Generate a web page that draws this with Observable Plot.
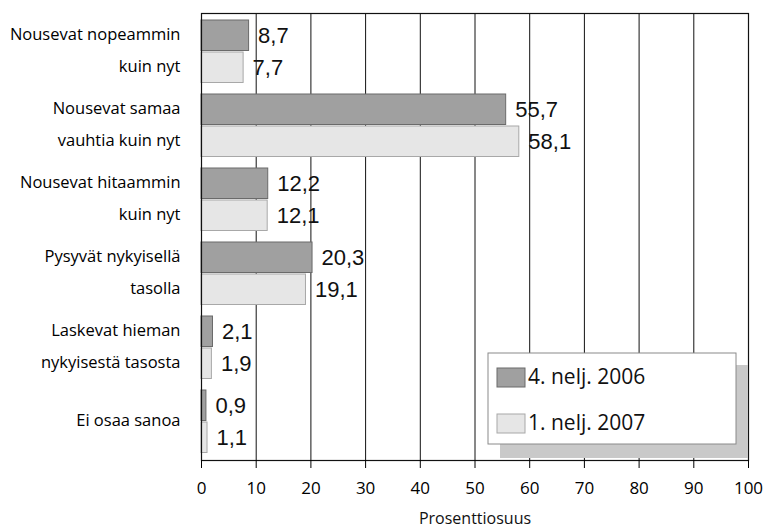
<!DOCTYPE html>
<html>
<head>
<meta charset="utf-8">
<script src="https://cdn.jsdelivr.net/npm/d3@7"></script>
<script src="https://cdn.jsdelivr.net/npm/@observablehq/plot@0.6"></script>
<style>
  html, body { margin: 0; padding: 0; background: #fff; }
  #chart { width: 767px; height: 529px; }
</style>
</head>
<body>
<div id="chart"></div>
<script>
// ---- data ----
const categories = [
  "Nousevat nopeammin\nkuin nyt",
  "Nousevat samaa\nvauhtia kuin nyt",
  "Nousevat hitaammin\nkuin nyt",
  "Pysyvät nykyisellä\ntasolla",
  "Laskevat hieman\nnykyisestä tasosta",
  "Ei osaa sanoa"
];
const seriesNames = ["4. nelj. 2006", "1. nelj. 2007"];
const values2006 = [8.7, 55.7, 12.2, 20.3, 2.1, 0.9];
const values2007 = [7.7, 58.1, 12.1, 19.1, 1.9, 1.1];
const xTicks = [0, 10, 20, 30, 40, 50, 60, 70, 80, 90, 100];
const xLabel = "Prosenttiosuus";

const rows2006 = categories.map((c, i) => ({cat: c, series: seriesNames[0], value: values2006[i]}));
const rows2007 = categories.map((c, i) => ({cat: c, series: seriesNames[1], value: values2007[i]}));

const fmt = v => v.toFixed(1).replace(".", ",");
const FONT = "'Open Sans', sans-serif";
const VALFONT = "'Liberation Sans', 'Open Sans', sans-serif";
const darkFill = "#a0a0a0", darkStroke = "#6a6a6a";
const lightFill = "#e6e6e6", lightStroke = "#a8a8a8";

const plot = Plot.plot({
  width: 767,
  height: 529,
  marginLeft: 201,
  marginRight: 19,
  marginTop: 13,
  marginBottom: 69,
  style: {fontFamily: FONT, background: "#fff", color: "#000"},
  x: {domain: [0, 100]},
  y: {domain: categories, padding: 0},
  marks: [
    Plot.gridX(xTicks, {stroke: "#111", strokeOpacity: 1, strokeWidth: 1}),
    Plot.barX(rows2006, {x: "value", y: "cat", fill: darkFill, stroke: darkStroke, strokeWidth: 1, insetTop: 5, insetBottom: 38.5}),
    Plot.barX(rows2007, {x: "value", y: "cat", fill: lightFill, stroke: lightStroke, strokeWidth: 1, insetTop: 37, insetBottom: 6.5}),
    Plot.text(rows2006, {x: "value", y: "cat", text: d => fmt(d.value), dx: 9, dy: -16.5, textAnchor: "start", fontSize: 22, fontFamily: VALFONT, fill: "#111"}),
    Plot.text(rows2007, {x: "value", y: "cat", text: d => fmt(d.value), dx: 9, dy: 15.5, textAnchor: "start", fontSize: 22, fontFamily: VALFONT, fill: "#111"}),
    Plot.frame({stroke: "#111", strokeWidth: 1.2}),
    Plot.axisY({tickSize: 0, tickPadding: 21, fontSize: 16.5, lineHeight: 1.95, dy: -6.5, label: null}),
    Plot.axisX({ticks: xTicks, tickSize: 8, tickPadding: 13, fontSize: 17, label: null}),
    Plot.text([xLabel], {frameAnchor: "bottom", text: d => d, dy: 63, fontSize: 16, fill: "#111"})
  ]
});

document.getElementById("chart").appendChild(plot);

// ---- legend (inside the plot area, bottom right, with drop shadow) ----
const xs = plot.scale("x");
const ys = plot.scale("y");
const svg = d3.select(plot.tagName.toLowerCase() === "svg" ? plot : plot.querySelector("svg"));
const plotRight = xs.apply(100);
const plotBottom = ys.apply(categories[categories.length - 1]) + ys.bandwidth;
const boxW = 248, boxH = 91, shadow = 12;
const bx = plotRight - shadow - boxW;
const by = plotBottom - 15 - boxH;
const g = svg.append("g").attr("font-family", FONT).attr("text-anchor", "start");
g.append("rect").attr("x", bx + shadow).attr("y", by + shadow).attr("width", boxW).attr("height", plotBottom - by - shadow - 1)
  .attr("fill", "#c9c9c9");
g.append("rect").attr("x", bx).attr("y", by).attr("width", boxW).attr("height", boxH)
  .attr("fill", "#fff").attr("stroke", "#8a8a8a").attr("stroke-width", 1);
const items = [
  {name: seriesNames[0], fill: darkFill, stroke: darkStroke},
  {name: seriesNames[1], fill: lightFill, stroke: lightStroke}
];
items.forEach((it, i) => {
  const cy = by + 24 + i * 46;
  g.append("rect").attr("x", bx + 9).attr("y", cy - 9).attr("width", 28).attr("height", 19)
    .attr("fill", it.fill).attr("stroke", it.stroke);
  g.append("text").attr("x", bx + 40).attr("y", cy).attr("dy", "0.35em")
    .attr("font-size", 21).attr("fill", "#111").text(it.name);
});
</script>
</body>
</html>
